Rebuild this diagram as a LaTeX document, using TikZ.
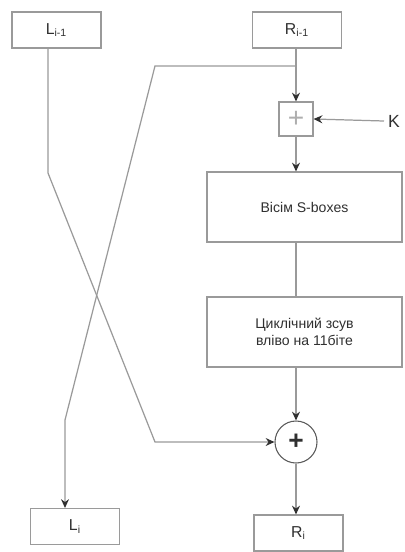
\documentclass[tikz,border=0pt]{standalone}
\usepackage{fontspec}
\setmainfont{Liberation Sans}
\definecolor{edge}{HTML}{9A9A9A}
\definecolor{ink} {HTML}{303030}
\usetikzlibrary{positioning,calc,arrows.meta}
\tikzset{
  regbox/.style={draw=edge,line width=0.6pt,fill=white,minimum width=89\pxu,
                 minimum height=36\pxu,inner sep=0pt,font=\fontsize{9}{10}\selectfont,text=ink},
  opbox/.style={draw=edge,line width=0.6pt,fill=white,minimum width=195\pxu,
                minimum height=70\pxu,inner sep=2pt,align=center,
                font=\fontsize{8}{9.5}\selectfont,text=ink},
  xorbox/.style={draw=edge,line width=0.6pt,minimum size=34\pxu,inner sep=0pt,
                 font=\fontsize{16}{16}\selectfont,text=edge!80},
  xorcirc/.style={circle,draw=ink!80,line width=0.6pt,minimum size=42\pxu,inner sep=0pt,
                  font=\fontsize{15}{15}\selectfont\bfseries,text=ink},
  wire/.style={line width=0.7pt,draw=edge},
  flow/.style={-{Stealth[length=5pt,width=4.5pt,color=ink]},line width=0.7pt,draw=edge}
}
\newlength{\pxu}
\setlength{\pxu}{0.02cm}
\begin{document}
\begin{tikzpicture}[x=0.02cm,y=-0.02cm]
  \useasboundingbox (0,0) rectangle (405,552);
  % registers
  \node[regbox] (Lprev) at (56.5,30) {L\textsubscript{i-1}};
  \node[regbox] (Rprev) at (297,30) {R\textsubscript{i-1}};
  \node[regbox] (Lnext) at (75,526.5) {L\textsubscript{i}};
  \node[regbox] (Rnext) at (298.5,533) {R\textsubscript{i}};
  % round function
  \node[xorbox] (keyadd) at (296,119) {+};
  \node[text=ink,font=\fontsize{10}{10}\selectfont] (key) at (394,121) {K};
  \node[opbox] (sboxes) at (304.5,207) {Вісім S-boxes};
  \node[opbox] (rotate) at (304.5,332) {Циклічний зсув\\вліво на 11біте};
  \node[xorcirc] (mix) at (296,442) {+};
  % corner points
  \coordinate (split) at (296,66);
  \coordinate (crossR) at (155,66);
  \coordinate (dropR) at (65,420);
  \coordinate (dropL) at (48,173);
  \coordinate (crossL) at (155,442);
  \coordinate (keyin) at (384,121);
  % connectors
  \draw[wire] (Rprev.south -| split) -- (split);
  \draw[flow] (split) -- (keyadd.north);
  \draw[flow] (keyin) -- (keyadd.east);
  \draw[flow] (keyadd.south) -- (sboxes.north -| keyadd);
  \draw[wire] (sboxes.south -| keyadd) -- (rotate.north -| keyadd);
  \draw[flow] (rotate.south -| keyadd) -- (mix.north);
  \draw[flow] (mix.south) -- (Rnext.north -| mix);
  \draw[flow] (split) -- (crossR) -- (dropR) -- (Lnext.north -| dropR);
  \draw[flow] (Lprev.south -| dropL) -- (dropL) -- (crossL) -- (mix.west);
\end{tikzpicture}
\end{document}
